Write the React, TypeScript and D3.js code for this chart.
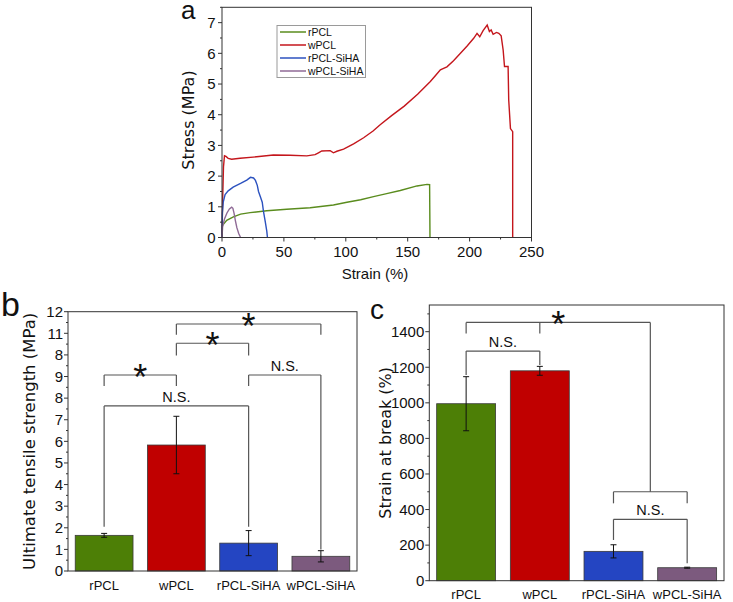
import React from 'react';
import * as d3 from 'd3';

const W = 733;
const H = 602;

const categories = ['rPCL', 'wPCL', 'rPCL-SiHA', 'wPCL-SiHA'];
const lineColors = ['#5a8c1e', '#c4161c', '#2c52bf', '#8f6a96'];
const barColors = ['#4d7f06', '#c00000', '#2445c2', '#7c5a7e'];

// Panel a: stress-strain curves [strain %, stress MPa]
const rPCLCurve: [number, number][] = [
  [0, 0], [0.3, 0.39], [3.8, 0.56], [9.2, 0.67], [15, 0.76], [22.7, 0.81], [36.2, 0.87], [52.3, 0.92],
  [71.2, 0.97], [90, 1.06], [100.9, 1.15], [112, 1.23], [122.4, 1.33], [133, 1.43], [144, 1.53],
  [157.5, 1.68], [165.6, 1.73], [167.7, 1.72], [168, 0],
];
const wPCLCurve: [number, number][] = [
  [0, 0], [0.5, 1.2], [1.2, 2.3], [2, 2.66], [3.2, 2.64], [5, 2.58], [7.8, 2.55], [14.6, 2.58],
  [28, 2.63], [41.5, 2.69], [55, 2.68], [68.5, 2.66], [75.2, 2.7], [77.9, 2.76], [80.6, 2.82],
  [87.4, 2.83], [90, 2.76], [92.8, 2.81], [98.2, 2.88], [106.3, 3.05], [114.4, 3.25], [122, 3.47],
  [128, 3.68], [137, 3.97], [147.2, 4.28], [158, 4.67], [168.3, 5.08], [173, 5.3], [176.4, 5.46],
  [179, 5.51], [181.7, 5.56], [187, 5.76], [192.6, 6.0], [198, 6.24], [203.3, 6.49], [206, 6.65],
  [208.2, 6.54], [210.9, 6.74], [214.2, 6.92], [216, 6.71], [217.4, 6.76], [219, 6.62],
  [221.7, 6.68], [223.6, 6.65], [225.5, 6.57], [227.1, 6.11], [228.2, 5.57], [231.1, 5.57],
  [231.6, 4.48], [233, 3.55], [234.8, 3.45], [234.8, 0],
];
const rPCLSiHACurve: [number, number][] = [
  [0, 0], [0.3, 0.8], [1, 1.15], [2.5, 1.4], [5, 1.52], [9, 1.64], [15, 1.76], [20, 1.87],
  [23, 1.96], [25.5, 1.94], [27, 1.86], [28.5, 1.7], [29.5, 1.5], [31, 1.33], [32.5, 1.15],
  [33.5, 0.85], [35, 0.5], [36.2, 0.2], [36.7, 0],
];
const wPCLSiHACurve: [number, number][] = [
  [0, 0], [0.5, 0.35], [2, 0.6], [4, 0.8], [6, 0.93], [7.8, 0.99], [8.8, 0.95], [9.8, 0.78],
  [10.8, 0.55], [12, 0.32], [13.5, 0.13], [15, 0],
];
const curves = [rPCLCurve, wPCLCurve, rPCLSiHACurve, wPCLSiHACurve];

const strainTicks = [0, 50, 100, 150, 200, 250];
const strainMinor = [25, 75, 125, 175, 225];
const stressTicks = [0, 1, 2, 3, 4, 5, 6, 7];
const stressMinor = [0.5, 1.5, 2.5, 3.5, 4.5, 5.5, 6.5, 7.5];

// Panel b: ultimate tensile strength
const utsMean = [1.65, 5.83, 1.29, 0.68];
const utsErr = [0.09, 1.33, 0.58, 0.26];
const utsTicks = [0, 1, 2, 3, 4, 5, 6, 7, 8, 9, 10, 11, 12];
const utsTickLabels = ['0', '1', '2', '3', '4', '5', '6', '7', '8', '9', '8', '11', '12'];
const utsMinor = [0.5, 1.5, 2.5, 3.5, 4.5, 5.5, 6.5, 7.5, 8.5, 9.5, 10.5, 11.5];

// Panel c: strain at break
const breakMean = [995, 1180, 165, 73];
const breakErr = [152, 25, 37, 3];
const breakTicks = [0, 200, 400, 600, 800, 1000, 1200, 1400];
const breakMinor = [100, 300, 500, 700, 900, 1100, 1300, 1500];

type Bracket = { span: [number, number]; y: number; legs: [number, number][]; label?: string };
const utsBrackets: Bracket[] = [
  { span: [0, 1], y: 9.07, legs: [[0, 8.56], [1, 8.56]], label: '*' },
  { span: [1, 2], y: 10.54, legs: [[1, 9.97], [2, 9.97]], label: '*' },
  { span: [1, 3], y: 11.43, legs: [[1, 10.93], [3, 10.93]], label: '*' },
  { span: [0, 2], y: 7.64, legs: [[0, 2.05], [2, 2.05]], label: 'N.S.' },
  { span: [2, 3], y: 9.07, legs: [[2, 8.56], [3, 1.0]], label: 'N.S.' },
];
const breakBrackets: Bracket[] = [
  { span: [0, 1], y: 1291, legs: [[0, 1156], [1, 1212]], label: 'N.S.' },
  { span: [2, 3], y: 345, legs: [[2, 229], [3, 98]], label: 'N.S.' },
  { span: [2, 3], y: 500, legs: [[2, 435], [3, 435]] },
  { span: [0, 2.5], y: 1452, legs: [[0, 1390], [1, 1390], [2.5, 500]], label: '*' },
];

const TICK_FONT = '"Liberation Sans", Arial, sans-serif';
const TITLE_FONT = '"DejaVu Sans", Verdana, sans-serif';
const AXIS = '#333';
const BRACKET = '#555';

function catX(scale: d3.ScaleBand<string>, idx: number) {
  const lo = Math.floor(idx);
  const hi = Math.ceil(idx);
  const c = (i: number) => (scale(categories[i]) as number) + scale.bandwidth() / 2;
  if (lo === hi) return c(lo);
  return c(lo) + (c(hi) - c(lo)) * (idx - lo);
}

function BarPanel(props: {
  x: d3.ScaleBand<string>;
  y: d3.ScaleLinear<number, number>;
  means: number[];
  errs: number[];
  ticks: number[];
  tickLabels: string[];
  minor: number[];
  brackets: Bracket[];
  title: string;
  titleX: number;
  titleSize: number;
  letter: string;
  letterX: number;
  letterY: number;
  letterSize: number;
}) {
  const { x, y, means, errs, ticks, tickLabels, minor, brackets } = props;
  const [x0, x1] = x.range();
  const [y0, y1] = y.range();
  const bw = x.bandwidth();
  return (
    <g>
      <text x={props.letterX} y={props.letterY} fontFamily={TICK_FONT} fontSize={props.letterSize} fill="#111">
        {props.letter}
      </text>
      {categories.map((c, i) => (
        <rect key={c} x={x(c)} y={y(means[i])} width={bw} height={y(0) - y(means[i])}
          fill={barColors[i]} stroke="#3a3a3a" strokeWidth={0.8} />
      ))}
      {categories.map((c, i) => {
        const cx = catX(x, i);
        const top = y(means[i] + errs[i]);
        const bot = y(means[i] - errs[i]);
        return (
          <g key={'e' + c} stroke="#111" strokeWidth={1}>
            <line x1={cx} x2={cx} y1={top} y2={bot} />
            <line x1={cx - 3} x2={cx + 3} y1={top} y2={top} />
            <line x1={cx - 3} x2={cx + 3} y1={bot} y2={bot} />
          </g>
        );
      })}
      {brackets.map((b, i) => {
        const xa = catX(x, b.span[0]);
        const xb = catX(x, b.span[1]);
        const yy = y(b.y);
        const mid = (xa + xb) / 2;
        return (
          <g key={'b' + i}>
            <line x1={xa} x2={xb} y1={yy} y2={yy} stroke={BRACKET} strokeWidth={1.2} />
            {b.legs.map((l, j) => (
              <line key={j} x1={catX(x, l[0])} x2={catX(x, l[0])} y1={yy} y2={y(l[1])} stroke={BRACKET} strokeWidth={1.2} />
            ))}
            {b.label === '*' && (
              <text x={mid} y={yy + 15} textAnchor="middle" fontFamily={TICK_FONT} fontSize={36} fill="#111">*</text>
            )}
            {b.label && b.label !== '*' && (
              <text x={mid} y={yy - 4} textAnchor="middle" fontFamily={TICK_FONT} fontSize={14.5} fill="#111">{b.label}</text>
            )}
          </g>
        );
      })}
      <rect x={x0} y={y1} width={x1 - x0} height={y0 - y1} fill="none" stroke={AXIS} strokeWidth={1} />
      {ticks.map((t, i) => (
        <g key={'t' + t}>
          <line x1={x0 - 4} x2={x0} y1={y(t)} y2={y(t)} stroke={AXIS} />
          <text x={x0 - 5} y={y(t)} dy="0.35em" textAnchor="end" fontFamily={TICK_FONT} fontSize={15} fill="#111">
            {tickLabels[i]}
          </text>
        </g>
      ))}
      {minor.map((t) => (
        <line key={'m' + t} x1={x0 - 2} x2={x0} y1={y(t)} y2={y(t)} stroke={AXIS} />
      ))}
      {categories.map((c, i) => (
        <text key={'x' + c} x={catX(x, i)} y={y0 + 14} dy="0.35em" textAnchor="middle" fontFamily={TICK_FONT} fontSize={13} fill="#111">
          {c}
        </text>
      ))}
      <text transform={`translate(${props.titleX},${(y0 + y1) / 2}) rotate(-90)`} textAnchor="middle" dy="0.35em"
        fontFamily={TITLE_FONT} fontSize={props.titleSize} fill="#111">
        {props.title}
      </text>
    </g>
  );
}

export default function App() {
  const xA = d3.scaleLinear().domain([0, 250]).range([222, 531.5]);
  const yA = d3.scaleLinear().domain([0, 7.5]).range([237.5, 7.3]);
  const line = d3.line<[number, number]>().x((d) => xA(d[0])).y((d) => yA(d[1]));

  const xB = d3.scaleBand<string>().domain(categories).range([68, 357]).paddingInner(0.2).paddingOuter(0.1);
  const yB = d3.scaleLinear().domain([0, 12]).range([571, 311.7]);

  const xC = d3.scaleBand<string>().domain(categories).range([429.3, 724]).paddingInner(0.2).paddingOuter(0.1);
  const yC = d3.scaleLinear().domain([0, 1550]).range([580.7, 305]);

  const legendY = [32, 45, 58, 71];

  return (
    <svg width={W} height={H} style={{ position: 'absolute', left: 0, top: 0, background: '#fff' }}>
      <rect x={0} y={0} width={W} height={H} fill="#fff" />
      <g>
        <text x={181} y={19} fontFamily={TICK_FONT} fontSize={26} fill="#111">a</text>
        {curves.map((c, i) => (
          <path key={i} d={line(c) || ''} fill="none" stroke={lineColors[i]} strokeWidth={1.4} />
        ))}
        <rect x={222} y={7.3} width={531.5 - 222} height={237.5 - 7.3} fill="none" stroke={AXIS} strokeWidth={1} />
        {stressTicks.map((t) => (
          <g key={'ys' + t}>
            <line x1={218} x2={222} y1={yA(t)} y2={yA(t)} stroke={AXIS} />
            <text x={215.5} y={yA(t)} dy="0.35em" textAnchor="end" fontFamily={TICK_FONT} fontSize={15} fill="#111">{t}</text>
          </g>
        ))}
        {stressMinor.map((t) => (
          <line key={'ym' + t} x1={220} x2={222} y1={yA(t)} y2={yA(t)} stroke={AXIS} />
        ))}
        {strainTicks.map((t) => (
          <g key={'xs' + t}>
            <line x1={xA(t)} x2={xA(t)} y1={237.5} y2={241.5} stroke={AXIS} />
            <text x={xA(t)} y={252} dy="0.35em" textAnchor="middle" fontFamily={TICK_FONT} fontSize={15} fill="#111">{t}</text>
          </g>
        ))}
        {strainMinor.map((t) => (
          <line key={'xm' + t} x1={xA(t)} x2={xA(t)} y1={237.5} y2={239.5} stroke={AXIS} />
        ))}
        <text x={375} y={279} textAnchor="middle" fontFamily={TICK_FONT} fontSize={15} fill="#111">Strain (%)</text>
        <text transform="translate(188,120) rotate(-90)" textAnchor="middle" dy="0.35em" fontFamily={TITLE_FONT} fontSize={16} fill="#111">
          Stress (MPa)
        </text>
        <rect x={277} y={25.5} width={88.5} height={52} fill="#fff" stroke="#9a9a9a" strokeWidth={1} />
        {categories.map((c, i) => (
          <g key={'lg' + c}>
            <line x1={280} x2={306} y1={legendY[i]} y2={legendY[i]} stroke={lineColors[i]} strokeWidth={1.5} />
            <text x={308} y={legendY[i]} dy="0.35em" fontFamily={TICK_FONT} fontSize={10.5} fill="#111">{c}</text>
          </g>
        ))}
      </g>
      <BarPanel x={xB} y={yB} means={utsMean} errs={utsErr} ticks={utsTicks} tickLabels={utsTickLabels}
        minor={utsMinor} brackets={utsBrackets} title="Ultimate tensile strength (MPa)" titleX={29} titleSize={16.5}
        letter="b" letterX={1} letterY={316} letterSize={34} />
      <BarPanel x={xC} y={yC} means={breakMean} errs={breakErr} ticks={breakTicks} tickLabels={breakTicks.map(String)}
        minor={breakMinor} brackets={breakBrackets} title="Strain at break (%)" titleX={385} titleSize={16}
        letter="c" letterX={370} letterY={319} letterSize={28} />
    </svg>
  );
}
